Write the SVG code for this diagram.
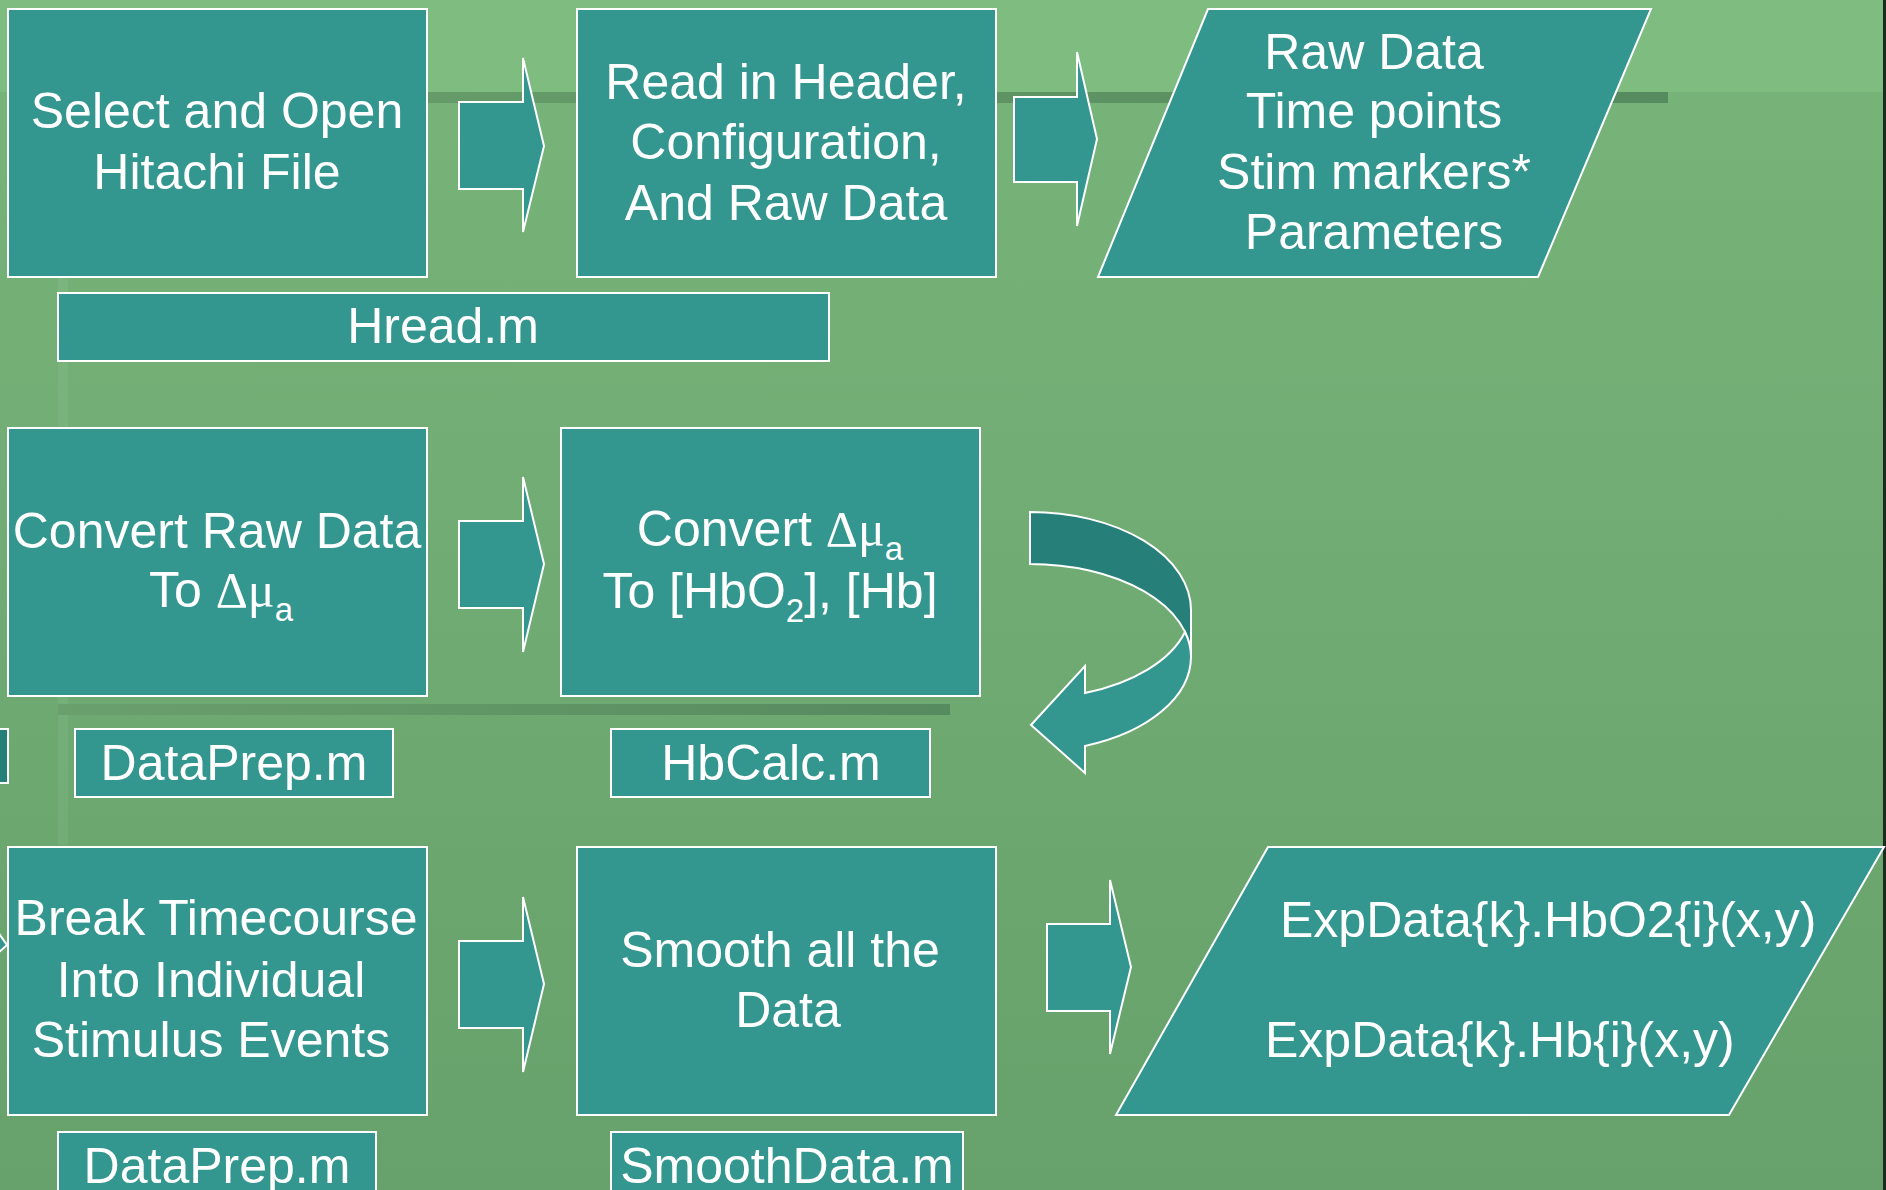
<svg xmlns="http://www.w3.org/2000/svg" width="1886" height="1190" viewBox="0 0 1886 1190">
<defs>
<linearGradient id="bg" x1="0" y1="0" x2="0" y2="1">
<stop offset="0" stop-color="#78B57A"/>
<stop offset="1" stop-color="#67A16B"/>
</linearGradient>
<linearGradient id="bar" x1="0" y1="0" x2="1" y2="0">
<stop offset="0" stop-color="#6AA06C"/>
<stop offset="1" stop-color="#568A5F"/>
</linearGradient>
<style>
.box{fill:#33968F;stroke:#FFFFFF;stroke-width:2}
.back{fill:#267F79;stroke:#FFFFFF;stroke-width:2}
.t{font-family:"Liberation Sans",Arial,sans-serif;font-size:50px;fill:#FFFFFF;text-anchor:middle}
.g{font-family:"Liberation Serif","Times New Roman",serif}
.s{font-size:33px}
</style>
</defs>
<g id="background">
<rect x="0" y="0" width="1886" height="1190" fill="url(#bg)"/>
<rect x="0" y="0" width="1886" height="92" fill="#7EBC80"/>
<rect x="58" y="92" width="10" height="753" fill="#FFFFFF" opacity="0.06"/>
<rect x="58" y="92" width="1610" height="11" fill="url(#bar)"/>
<rect x="58" y="704" width="892" height="11" fill="url(#bar)"/>
<rect x="1883" y="0" width="3" height="1190" fill="#1C2A1F"/>
</g>
<g id="partial-left">
<rect x="-10" y="729" width="18" height="54" class="back"/>
<polygon points="-2,932 7,945 -2,953" class="box"/>
</g>
<g id="connectors">
<polygon class="box" points="459,102 523,102 523,58 544,146 523,232 523,189 459,189"/>
<polygon class="box" points="1014,97 1077,97 1077,52 1097,139 1077,226 1077,182 1014,182"/>
<polygon class="box" points="459,521 523,521 523,477 544,564 523,652 523,608 459,608"/>
<polygon class="box" points="459,941 523,941 523,897 544,984 523,1072 523,1028 459,1028"/>
<polygon class="box" points="1047,924 1110,924 1110,880 1131,967 1110,1054 1110,1011 1047,1011"/>
<g id="curved-arrow">
<path class="back" d="M1030,512 A161,98 0 0 1 1191,610 L1191,657 A161,93 0 0 0 1030,564 Z"/>
<path class="box" d="M1185,632 A161,91 0 0 1 1085,693 L1085,666 L1031,725 L1085,773 L1085,746 A161,95 0 0 0 1191,657 A161,93 0 0 0 1185,632 Z"/>
</g>
</g>
<g id="n1">
<rect class="box" x="8" y="9" width="419" height="268"/>
<text class="t"><tspan x="217" y="128">Select and Open</tspan><tspan x="217" y="189">Hitachi File</tspan></text>
</g>
<g id="n2">
<rect class="box" x="577" y="9" width="419" height="268"/>
<text class="t"><tspan x="786" y="99">Read in Header,</tspan><tspan x="786" y="159">Configuration,</tspan><tspan x="786" y="220">And Raw Data</tspan></text>
</g>
<g id="n3">
<polygon class="box" points="1208,9 1651,9 1538,277 1098,277"/>
<text class="t"><tspan x="1374" y="69">Raw Data</tspan><tspan x="1374" y="128">Time points</tspan><tspan x="1374" y="189">Stim markers*</tspan><tspan x="1374" y="249">Parameters</tspan></text>
</g>
<g id="hread">
<rect class="box" x="58" y="293" width="771" height="68"/>
<text class="t" x="443" y="343">Hread.m</text>
</g>
<g id="n4">
<rect class="box" x="8" y="428" width="419" height="268"/>
<text class="t"><tspan x="217" y="548">Convert Raw Data</tspan><tspan x="221" y="607">To <tspan class="g">Δμ</tspan><tspan class="s" dy="14">a</tspan></tspan></text>
</g>
<g id="n5">
<rect class="box" x="561" y="428" width="419" height="268"/>
<text class="t"><tspan x="770" y="546">Convert <tspan class="g">Δμ</tspan><tspan class="s" dy="14">a</tspan></tspan><tspan x="770" y="608">To [HbO<tspan class="s" dy="14">2</tspan><tspan dy="-14">], [Hb]</tspan></tspan></text>
</g>
<g id="dataprep1">
<rect class="box" x="75" y="729" width="318" height="68"/>
<text class="t" x="234" y="780">DataPrep.m</text>
</g>
<g id="hbcalc">
<rect class="box" x="611" y="729" width="319" height="68"/>
<text class="t" x="771" y="780">HbCalc.m</text>
</g>
<g id="n7">
<rect class="box" x="8" y="847" width="419" height="268"/>
<text class="t"><tspan x="216" y="935">Break Timecourse</tspan><tspan x="211" y="997">Into Individual</tspan><tspan x="211" y="1057">Stimulus Events</tspan></text>
</g>
<g id="n8">
<rect class="box" x="577" y="847" width="419" height="268"/>
<text class="t"><tspan x="780" y="967">Smooth all the</tspan><tspan x="788" y="1027">Data</tspan></text>
</g>
<g id="n9">
<polygon class="box" points="1268,847 1884,847 1729,1115 1116,1115"/>
<text class="t" style="text-anchor:start"><tspan x="1280" y="937">ExpData{k}.HbO2{i}(x,y)</tspan><tspan x="1265" y="1057">ExpData{k}.Hb{i}(x,y)</tspan></text>
</g>
<g id="dataprep2">
<rect class="box" x="58" y="1132" width="318" height="70"/>
<text class="t" x="217" y="1183">DataPrep.m</text>
</g>
<g id="smoothdata">
<rect class="box" x="611" y="1132" width="352" height="70"/>
<text class="t" x="787" y="1183">SmoothData.m</text>
</g>
</svg>
